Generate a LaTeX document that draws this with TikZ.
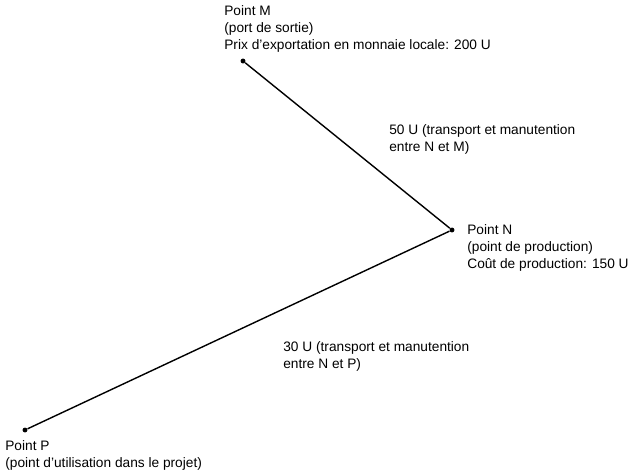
\documentclass[tikz,border=0pt]{standalone}
\usepackage{fontspec}
\setmainfont{Liberation Sans}
\usepackage{tikz}

\tikzset{
  dot/.style={circle, fill=black, inner sep=0pt, minimum size=2.8pt},
  txt/.style={anchor=north west, align=left, inner sep=0pt,
    font=\fontsize{7.8}{9.7}\selectfont},
}

\begin{document}
\begin{tikzpicture}
	    \useasboundingbox (0,0) rectangle (12.7,9.46);
	    \node[dot] at (4.86,8.24) (m) {};
	    \node[dot] at (9.04,4.86) (n) {};
	    \node[dot] at (0.50,0.86) (p) {};

	    \path[line width=0.8pt] (m) edge (n) ;
	    \path[line width=0.8pt] (n) edge (p) ;

	    \node[txt] at (4.48,9.36) (lm) {Point M\\(port de sortie)\\Prix d'exportation en monnaie locale: 200 U};
	    \node[txt] at (9.34,4.97) (ln) {Point N\\(point de production)\\Coût de production: 150 U};
	    \node[txt] at (0.10,0.65) (lp) {Point P\\(point d'utilisation dans le projet)};
	    \node[txt] at (7.78,6.97) (lmn) {50 U (transport et manutention\\entre N et M)};
	    \node[txt] at (5.66,2.63) (lnp) {30 U (transport et manutention\\entre N et P)};
	\end{tikzpicture}
\end{document}
